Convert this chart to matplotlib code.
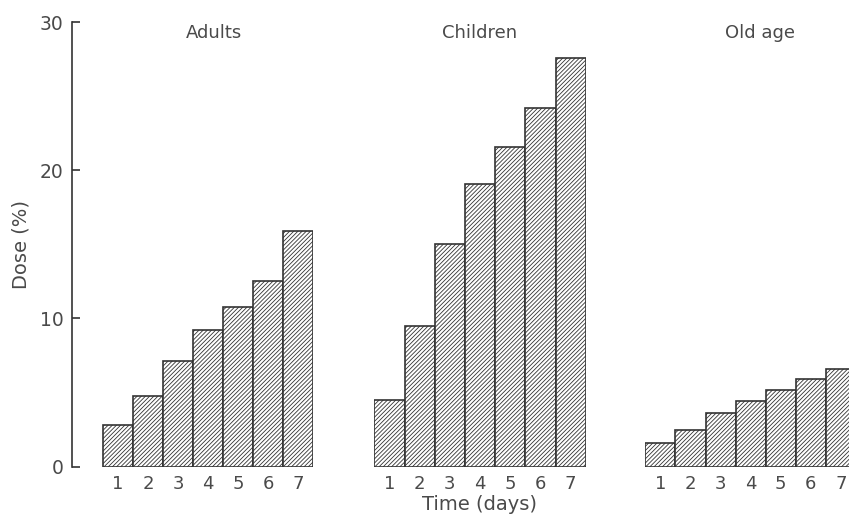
import matplotlib
matplotlib.use("Agg")
import matplotlib.pyplot as plt

days = [1, 2, 3, 4, 5, 6, 7]
groups = ["Adults", "Children", "Old age"]
adults = [2.8, 4.8, 7.1, 9.2, 10.8, 12.5, 15.9]
children = [4.5, 9.5, 15.0, 19.1, 21.6, 24.2, 27.6]
old_age = [1.6, 2.5, 3.6, 4.4, 5.2, 5.9, 6.6]
yticks = [0, 10, 20, 30]

plt.rcParams["font.family"] = ["DejaVu Sans"]
plt.rcParams["hatch.linewidth"] = 0.6

ink = "#333333"
text_c = "#4a4a4a"
fs = 13

W, H = 849, 516
fig = plt.figure(figsize=(W / 100, H / 100), dpi=100)
fig.patch.set_facecolor("white")

y0_px, y30_px = 466.7, 22.0
bottom = (H - y0_px) / H
height = (y0_px - y30_px) / H

# panel extents in pixels (left, right) and x-limits
panels = [
    (72.0, 313.0, (-0.533, 7.5)),
    (374.3, 585.7, (0.5, 7.5)),
    (645.3, 856.0, (0.5, 7.5)),
]
series = [adults, children, old_age]
title_x = [214, 480, 760]

for i, ((l, r, xl), vals, name) in enumerate(zip(panels, series, groups)):
    ax = fig.add_axes([l / W, bottom, (r - l) / W, height])
    ax.bar(days, vals, width=1.0, facecolor="white", edgecolor=ink,
           linewidth=1.2, hatch="////////")
    ax.set_xlim(*xl)
    ax.set_ylim(0, 30)
    for s in ["top", "right", "bottom"]:
        ax.spines[s].set_visible(False)
    ax.set_xticks(days)
    ax.set_xticklabels([str(d) for d in days], fontsize=fs, color=text_c)
    ax.tick_params(axis="x", length=0, pad=6)
    if i == 0:
        ax.spines["left"].set_color(ink)
        ax.spines["left"].set_linewidth(1.2)
        ax.set_yticks(yticks)
        ax.set_yticklabels([str(t) for t in yticks], fontsize=13.5,
                           color=text_c)
        ax.tick_params(axis="y", direction="in", length=6, width=1.2,
                       color=ink, pad=6)
        ax.set_ylabel("Dose (%)", fontsize=14, color=text_c, labelpad=7)
    else:
        ax.spines["left"].set_visible(False)
        ax.set_yticks([])
    ax.patch.set_alpha(0)
    fig.text(title_x[i] / W, 1 - 33 / H, name, ha="center", va="center",
             fontsize=fs, color=text_c)

fig.text(480 / W, 1 - 505 / H, "Time (days)", ha="center", va="center",
         fontsize=14, color=text_c)

fig.savefig("out.png", dpi=100, facecolor="white")
